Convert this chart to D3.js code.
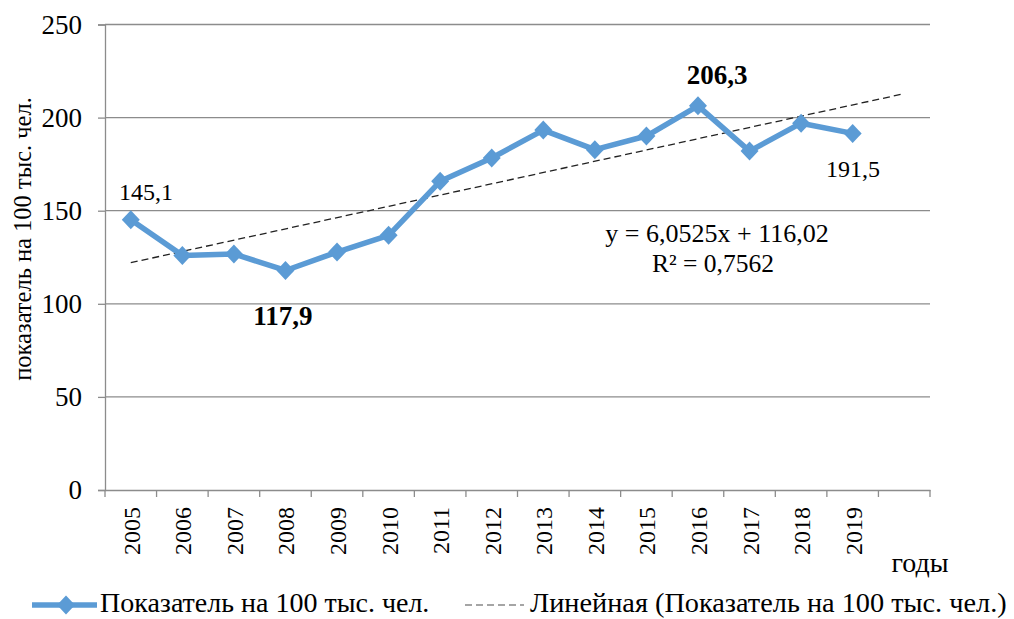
<!DOCTYPE html>
<html><head><meta charset="utf-8">
<script src="https://cdn.jsdelivr.net/npm/d3@7"></script>
<style>body{margin:0;background:#fff}svg{display:block}text{font-family:"Liberation Serif","Times New Roman",serif;fill:#000}</style>
</head><body><svg id="c" width="1014" height="619"></svg>
<script>
const categories = ["2005","2006","2007","2008","2009","2010","2011","2012","2013","2014","2015","2016","2017","2018","2019",""];
const years = categories.slice(0,15);
const values = [145.1,126,126.8,117.9,127.8,136.8,165.8,178.3,193.3,182.8,190.1,206.3,182,197,191.5];
const trendSlope = 6.0525, trendIntercept = 116.02, r2 = "0,7562";
const yTicks = [0,50,100,150,200,250];
const labels = [
  {i:0, text:"145,1", bold:false, x:146, y:200},
  {i:3, text:"117,9", bold:true, x:283, y:325},
  {i:11, text:"206,3", bold:true, x:717, y:84},
  {i:14, text:"191,5", bold:false, x:853, y:177}
];
const svg = d3.select("#c");
const x = d3.scaleBand().domain(categories).range([105,930]);
const y = d3.scaleLinear().domain([0,250]).range([490,24.5]);
const cx = c => x(c) + x.bandwidth()/2;
const grey = "#8c8c8c";

// gridlines
svg.append("g").selectAll("line").data(yTicks.filter(d=>d>0)).join("line")
  .attr("x1",105).attr("x2",930).attr("y1",d=>y(d)).attr("y2",d=>y(d))
  .attr("stroke",grey).attr("stroke-width",1.3);

// y axis
const ya = svg.append("g").attr("transform","translate(105,0)").call(d3.axisLeft(y).tickValues(yTicks).tickSize(7).tickPadding(16).tickFormat(d3.format("d")));
ya.select(".domain").attr("stroke",grey).attr("stroke-width",1.3);
ya.selectAll(".tick line").attr("stroke",grey).attr("stroke-width",1.3);
ya.selectAll("text").style("font-size","27px").attr("dy","0.33em");

// x axis
const xa = svg.append("g").attr("transform","translate(0,490)").call(d3.axisBottom(x).tickSize(0).tickFormat(()=>""));
xa.select(".domain").attr("stroke",grey).attr("stroke-width",1.3);
xa.selectAll(".tick").remove();
const edges = categories.map((c)=>x(c)).concat([930]);
svg.append("g").selectAll("line").data(edges).join("line")
  .attr("x1",d=>d).attr("x2",d=>d).attr("y1",490).attr("y2",497)
  .attr("stroke",grey).attr("stroke-width",1.3);
svg.append("g").selectAll("text").data(years).join("text")
  .attr("transform",d=>`translate(${cx(d)+9},507) rotate(-90)`)
  .attr("text-anchor","end").style("font-size","24px").text(d=>d);

// trend line
svg.append("line")
  .attr("x1",cx(categories[0])).attr("y1",y(trendSlope*1+trendIntercept))
  .attr("x2",cx(categories[15])).attr("y2",y(trendSlope*16+trendIntercept))
  .attr("stroke","#222").attr("stroke-width",1.3).attr("stroke-dasharray","7,4");

// data line
const line = d3.line().x((d,i)=>cx(years[i])).y(d=>y(d));
svg.append("path").datum(values).attr("d",line).attr("fill","none")
  .attr("stroke","#5b9bd5").attr("stroke-width",5.5).attr("stroke-linejoin","round");
const diamond = "M0,-9.5L9,0L0,9.5L-9,0Z";
svg.append("g").selectAll("path").data(values).join("path")
  .attr("d",diamond).attr("transform",(d,i)=>`translate(${cx(years[i])},${y(d)})`)
  .attr("fill","#5b9bd5");

// value labels
svg.append("g").selectAll("text").data(labels).join("text")
  .attr("x",d=>d.x).attr("y",d=>d.y)
  .attr("text-anchor","middle").style("font-size",d=>d.bold?"27px":"24px")
  .style("font-weight",d=>d.bold?"bold":"normal").text(d=>d.text);

// equation
svg.append("text").attr("x",717).attr("y",242).attr("text-anchor","middle").style("font-size","26px")
  .text(`y = ${String(trendSlope).replace(".",",")}x + ${String(trendIntercept).replace(".",",")}`);
svg.append("text").attr("x",713).attr("y",272).attr("text-anchor","middle").style("font-size","25.5px")
  .text(`R² = ${r2}`);

// y title
svg.append("text").attr("transform","translate(31,239) rotate(-90)").attr("text-anchor","middle")
  .style("font-size","24.5px").text("показатель на 100 тыс. чел.");
// x title
svg.append("text").attr("x",920).attr("y",572).attr("text-anchor","middle").style("font-size","28px").text("годы");

// legend
const lg = svg.append("g");
lg.append("line").attr("x1",32).attr("x2",97).attr("y1",605).attr("y2",605).attr("stroke","#5b9bd5").attr("stroke-width",5.5);
lg.append("path").attr("d",diamond).attr("transform","translate(66,605)").attr("fill","#5b9bd5");
lg.append("text").attr("x",100).attr("y",612).style("font-size","28px").text("Показатель на 100 тыс. чел.");
lg.append("line").attr("x1",465).attr("x2",524).attr("y1",605).attr("y2",605).attr("stroke","#888").attr("stroke-width",1.3).attr("stroke-dasharray","7,4");
lg.append("text").attr("x",530).attr("y",612).style("font-size","28.3px").text("Линейная (Показатель на 100 тыс. чел.)");
</script></body></html>
